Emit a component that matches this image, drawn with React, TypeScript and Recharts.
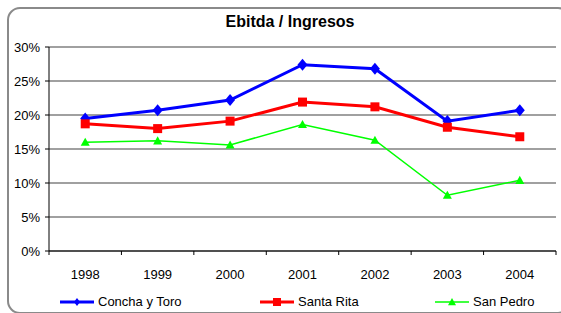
import { LineChart, Line, XAxis, YAxis, CartesianGrid, Legend } from 'recharts';

const years = ['1998', '1999', '2000', '2001', '2002', '2003', '2004'];
const conchaYToro = [19.5, 20.7, 22.2, 27.4, 26.8, 19.1, 20.7];
const santaRita = [18.7, 18.0, 19.1, 21.9, 21.2, 18.2, 16.8];
const sanPedro = [16.0, 16.2, 15.6, 18.6, 16.3, 8.2, 10.4];
const yTicks = [0, 5, 10, 15, 20, 25, 30];

const data = years.map((year, i) => ({
  year,
  concha: conchaYToro[i],
  rita: santaRita[i],
  pedro: sanPedro[i],
}));

const W = 561;
const H = 313;
const LEFT = 49;
const RIGHT = 5;
const BAND = (W - LEFT - RIGHT) / years.length;
const FONT = '"Liberation Sans", Arial, sans-serif';

const Diamond = ({ cx, cy, fill, w = 5, h = 6 }: any) => (
  <path d={`M${cx},${cy - h} L${cx + w},${cy} L${cx},${cy + h} L${cx - w},${cy} Z`} fill={fill} />
);
const Square = ({ cx, cy, fill, s = 4.5 }: any) => (
  <rect x={cx - s} y={cy - s} width={s * 2} height={s * 2} fill={fill} />
);
const Triangle = ({ cx, cy, fill, s = 4.5 }: any) => (
  <path d={`M${cx},${cy - s} L${cx + s},${cy + s * 0.8} L${cx - s},${cy + s * 0.8} Z`} fill={fill} />
);

const series = [
  { key: 'concha', name: 'Concha y Toro', color: '#0000FF', width: 3, Marker: Diamond },
  { key: 'rita', name: 'Santa Rita', color: '#FF0000', width: 3, Marker: Square },
  { key: 'pedro', name: 'San Pedro', color: '#00FF00', width: 1.5, Marker: Triangle },
];

const legendOffsets = [60, 260, 435];

const XTick = ({ x, y, payload, index }: any) => {
  const left = x - BAND / 2;
  return (
    <g>
      <line x1={left} y1={y - 4} x2={left} y2={y} stroke="#000" />
      {index === years.length - 1 && (
        <line x1={x + BAND / 2} y1={y - 4} x2={x + BAND / 2} y2={y} stroke="#000" />
      )}
      <text x={x} y={y + 24} textAnchor="middle" fontSize={13} fontFamily={FONT} fill="#000">
        {payload.value}
      </text>
    </g>
  );
};

const LegendContent = () => (
  <div style={{ position: 'relative', width: W, height: 22, fontFamily: FONT, fontSize: 13 }}>
    {series.map((s, i) => {
      const M = s.Marker;
      return (
        <div
          key={s.key}
          style={{ position: 'absolute', left: legendOffsets[i], top: 3, display: 'flex', alignItems: 'center' }}
        >
          <svg width={34} height={14}>
            <line x1={0} y1={7} x2={34} y2={7} stroke={s.color} strokeWidth={s.width} />
            {s.key === 'concha' && <M cx={17} cy={7} fill={s.color} w={3} h={4} />}
            {s.key === 'rita' && <M cx={17} cy={7} fill={s.color} s={4} />}
            {s.key === 'pedro' && <M cx={17} cy={7} fill={s.color} s={4} />}
          </svg>
          <span style={{ marginLeft: 4, color: '#000' }}>{s.name}</span>
        </div>
      );
    })}
  </div>
);

export default function App() {
  return (
    <div style={{ position: 'absolute', left: 0, top: 0, width: W, height: H, background: '#fff', overflow: 'hidden' }}>
      <div
        style={{
          position: 'absolute',
          left: 7,
          top: 7,
          width: 560,
          height: 303,
          border: '2px solid #8a8a8a',
          borderRadius: 13,
        }}
      />
      <div
        style={{
          position: 'absolute',
          left: 0,
          top: 13,
          width: 580,
          textAlign: 'center',
          fontFamily: FONT,
          fontWeight: 'bold',
          fontSize: 16,
          color: '#000',
        }}
      >
        Ebitda / Ingresos
      </div>
      <div style={{ position: 'absolute', left: 0, top: 0 }}>
        <LineChart width={W} height={H} data={data} margin={{ top: 47, right: RIGHT, left: 0, bottom: 0 }}>
          <CartesianGrid vertical={false} stroke="#808080" strokeWidth={1.5} />
          <XAxis
            dataKey="year"
            height={40}
            tickSize={4}
            tickMargin={0}
            tickLine={false}
            axisLine={{ stroke: '#000' }}
            tick={<XTick />}
            interval={0}
            padding={{ left: BAND / 2, right: BAND / 2 }}
          />
          <YAxis
            width={LEFT}
            domain={[0, 30]}
            ticks={yTicks}
            tickFormatter={(v) => `${v}%`}
            tickSize={4}
            tickMargin={5}
            axisLine={{ stroke: '#000' }}
            tickLine={{ stroke: '#000' }}
            tick={{ fontSize: 13, fontFamily: FONT, fill: '#000' }}
          />
          <Legend verticalAlign="bottom" content={<LegendContent />} wrapperStyle={{ left: 0, bottom: 0, height: 22 }} />
          {series.map((s) => {
            const M = s.Marker;
            return (
              <Line
                key={s.key}
                dataKey={s.key}
                name={s.name}
                stroke={s.color}
                strokeWidth={s.width}
                isAnimationActive={false}
                dot={(p: any) => <M key={`${s.key}-${p.index}`} cx={p.cx} cy={p.cy} fill={s.color} />}
                activeDot={false}
              />
            );
          })}
        </LineChart>
      </div>
    </div>
  );
}
